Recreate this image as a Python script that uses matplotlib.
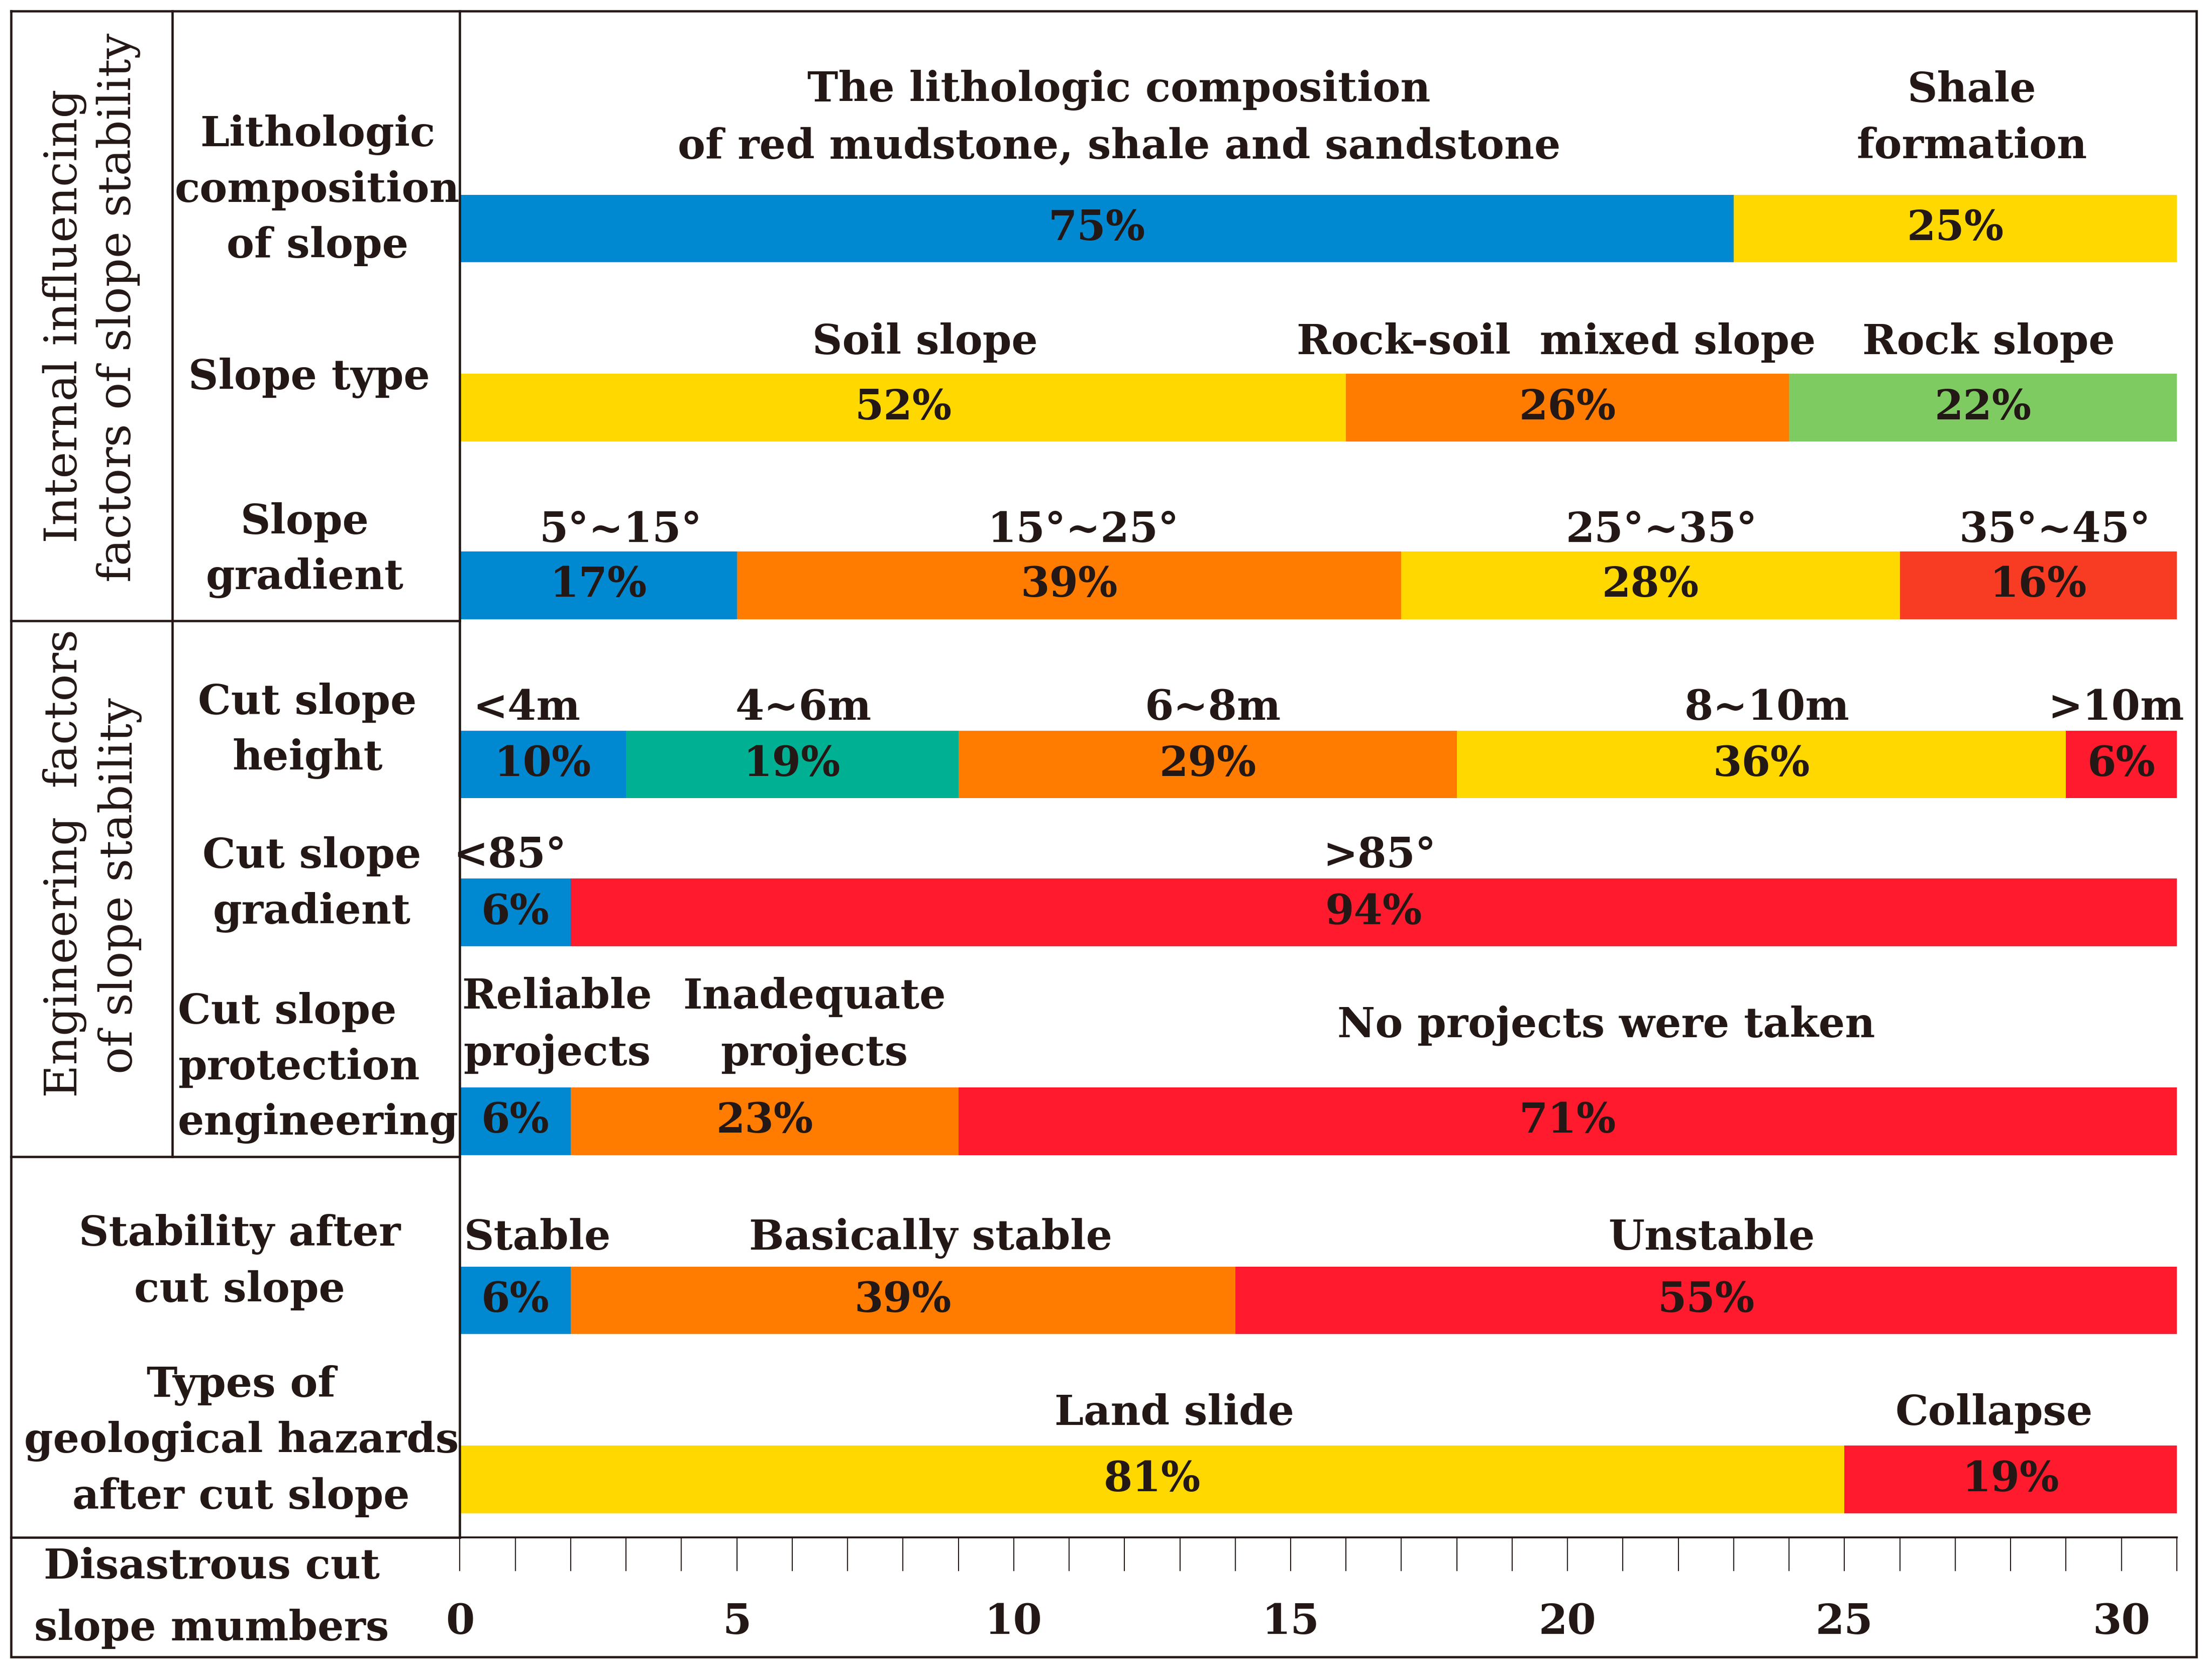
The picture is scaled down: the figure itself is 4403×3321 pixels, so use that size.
import matplotlib
matplotlib.use("Agg")
import matplotlib.pyplot as plt

# data: numbers of disastrous cut slopes in each class (31 in total)
litho_n = [23, 8]
litho_pct = ["75%", "25%"]
litho_names = ["The lithologic composition\nof red mudstone, shale and sandstone", "Shale\nformation"]

type_n = [16, 8, 7]
type_pct = ["52%", "26%", "22%"]
type_names = ["Soil slope", "Rock-soil  mixed slope", "Rock slope"]

grad_n = [5, 12, 9, 5]
grad_pct = ["17%", "39%", "28%", "16%"]
grad_names = ["5°~15°", "15°~25°", "25°~35°", "35°~45°"]

height_n = [3, 6, 9, 11, 2]
height_pct = ["10%", "19%", "29%", "36%", "6%"]
height_names = ["<4m", "4~6m", "6~8m", "8~10m", ">10m"]

cutgrad_n = [2, 29]
cutgrad_pct = ["6%", "94%"]
cutgrad_names = ["<85°", ">85°"]

protect_n = [2, 7, 22]
protect_pct = ["6%", "23%", "71%"]
protect_names = ["Reliable\nprojects", "Inadequate\nprojects", "No projects were taken"]

stab_n = [2, 12, 17]
stab_pct = ["6%", "39%", "55%"]
stab_names = ["Stable", "Basically stable", "Unstable"]

hazard_n = [25, 6]
hazard_pct = ["81%", "19%"]
hazard_names = ["Land slide", "Collapse"]

factors = ["Lithologic\ncomposition\nof slope", "Slope type", "Slope\ngradient",
           "Cut slope\nheight", "Cut slope\ngradient", "Cut slope\nprotection\nengineering",
           "Stability after\ncut slope", "Types of\ngeological hazards\nafter cut slope"]
groups = ["Internal influencing\nfactors of slope stability",
          "Engineering  factors\nof slope stability"]
axis_name = "Disastrous cut\nslope mumbers"
xticks = [0, 5, 10, 15, 20, 25, 30]

# colours
BLUE, YEL, ORA, GRN, RED, TEAL, ORED = "#0088D1", "#FFD800", "#FF7C00", "#7ECB62", "#FF1A2E", "#00B092", "#F83C24"
rows = [
    (litho_n, litho_pct, litho_names, [BLUE, YEL]),
    (type_n, type_pct, type_names, [YEL, ORA, GRN]),
    (grad_n, grad_pct, grad_names, [BLUE, ORA, YEL, ORED]),
    (height_n, height_pct, height_names, [BLUE, TEAL, ORA, YEL, RED]),
    (cutgrad_n, cutgrad_pct, cutgrad_names, [BLUE, RED]),
    (protect_n, protect_pct, protect_names, [BLUE, ORA, RED]),
    (stab_n, stab_pct, stab_names, [BLUE, ORA, RED]),
    (hazard_n, hazard_pct, hazard_names, [YEL, RED]),
]

# layout (reference pixel units, 1568 wide)
W = 1568.0
H = W * 3321 / 4403
bar_y = [162, 289, 415, 542, 647, 795, 922, 1049]
name_y = [84, 243, 376, 502, 607, 727, 878, 1002]
name_shift = [[0.4, 0.3], [0.4, -0.2, 0.1], [0.4, 0.26, 0.2, 0.3], [-0.3, 0.2, 0.1, 0.1, -0.1],
              [-0.1, 0.1], [0.75, 0.9, 0.7], [0.4, 0.5, 0.1], [0.4, -0.3]]
factor_xy = [(225, 135), (219, 268), (216, 390), (218, 518), (221, 627), (126, 757),
             (170, 895), (171, 1022)]
INK = "#231815"
FONT = dict(family="DejaVu Serif", fontweight="bold", color=INK)
FS = 19.8
GFS = 21.5


def stack(axx, text, x, y, step, **kw):
    lines = text.split("\n")
    n = len(lines)
    for i, line in enumerate(lines):
        axx.text(x, y + (i - (n - 1) / 2) * step, line, va="center", **kw)


fig = plt.figure(figsize=(4403 / 300, 3321 / 300), dpi=300)

# background table
bg = fig.add_axes([0, 0, 1, 1])
bg.set_xlim(0, W)
bg.set_ylim(H, 0)
bg.axis("off")
lw = 1.1
bg.plot([8, 1557, 1557, 8, 8], [8, 8, 1175, 1175, 8], color=INK, lw=lw, solid_joinstyle="miter")
bg.plot([122, 122], [8, 820], color=INK, lw=lw)
for yy in (440, 820, 1090):
    bg.plot([8, 326], [yy, yy], color=INK, lw=lw)

for i, txt in enumerate(factors):
    x, y = factor_xy[i]
    ha = "left" if i == 5 else "center"
    stack(bg, txt, x, y, 39.5, ha=ha, fontsize=FS, **FONT)
stack(bg, axis_name, 150, 1133, 44, ha="center", fontsize=FS, **FONT)

g1 = groups[0].split("\n")
gk = dict(rotation=90, ha="center", va="center", fontsize=GFS, family="DejaVu Serif", color=INK)
bg.text(46, 224, g1[0], **gk)
bg.text(84, 218, g1[1], **gk)
g2 = groups[1].split("\n")
bg.text(46, 612, g2[0], **gk)
bg.text(85, 628, g2[1], **gk)

# bar area
ax = fig.add_axes([326 / W, 1 - 1090 / H, (1543 - 326) / W, (1090 - 8) / H])
ax.patch.set_visible(False)
ax.set_xlim(0, 31)
ax.set_ylim(1090, 8)
for s in ("top", "right"):
    ax.spines[s].set_visible(False)
ax.spines["left"].set_linewidth(lw)
ax.spines["left"].set_color(INK)
ax.spines["bottom"].set_linewidth(0.9)
ax.spines["bottom"].set_color(INK)
ax.set_yticks([])
ax.set_xticks(xticks)
ax.set_xticks(range(0, 32), minor=True)
ax.tick_params(axis="x", which="both", direction="out", length=16, width=0.5, color=INK)
ax.tick_params(axis="x", which="major", pad=15, labelsize=FS)
for lab in ax.get_xticklabels():
    lab.set_fontfamily("DejaVu Serif")
    lab.set_fontweight("bold")
    lab.set_color(INK)

for r, (counts, pcts, names, cols) in enumerate(rows):
    left = 0
    for j, c in enumerate(counts):
        ax.barh(bar_y[r], c, left=left, height=48, color=cols[j], edgecolor="none")
        mid = left + c / 2
        ax.text(mid, bar_y[r], pcts[j], ha="center", va="center", fontsize=FS, **FONT)
        stack(ax, names[j], mid + name_shift[r][j], name_y[r], 40, ha="center", fontsize=FS, **FONT)
        left += c

fig.savefig("out.png", dpi=300)
